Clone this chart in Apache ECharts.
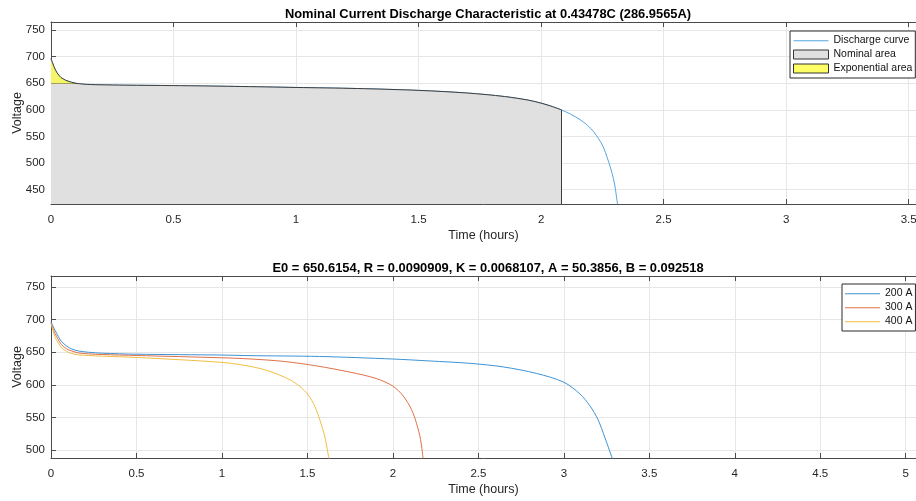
<!DOCTYPE html>
<html><head><meta charset="utf-8">
<script src="https://cdn.jsdelivr.net/npm/echarts@6/dist/echarts.min.js"></script>
<style>html,body{margin:0;padding:0;background:#fff}#c{width:916px;height:501px}</style>
</head><body><div id="c"></div>
<script>
// ---------- data ----------
const topTitle = 'Nominal Current Discharge Characteristic at 0.43478C (286.9565A)';
const bottomTitle = 'E0 = 650.6154, R = 0.0090909, K = 0.0068107, A = 50.3856, B = 0.092518';
const xAxisName = 'Time (hours)';
const yAxisName = 'Voltage';

const topTime = [0, 0.008, 0.016, 0.024, 0.032, 0.04, 0.05, 0.06, 0.07, 0.084, 0.105, 0.13, 0.16, 0.2, 0.3, 0.5, 0.75, 1.0, 1.25, 1.5, 1.7, 1.85, 1.95, 2.0, 2.04, 2.082, 2.12, 2.159, 2.19, 2.214, 2.235, 2.254, 2.27, 2.282, 2.295, 2.302, 2.312];
const topVolt = [696, 686, 677, 670, 665, 661, 658, 655.5, 653.8, 651.8, 649.5, 648.3, 647.5, 647, 646.3, 645.5, 644, 642, 640, 636.5, 631.5, 625, 618, 612.5, 607, 600, 592, 581.5, 570.5, 559, 545.5, 530, 510, 493, 471, 455, 422];
const nominalEndTime = 2.082;
const nominalEndVolt = 600;
const expEndTime = 0.105;
const expVolt = 649.5;
const topLegend = ['Discharge curve', 'Nominal area', 'Exponential area'];

const t200 = [0, 0.012, 0.023, 0.033, 0.043, 0.06, 0.082, 0.1, 0.121, 0.16, 0.218, 0.3, 0.5, 1.0, 1.164, 1.57, 2.0, 2.216, 2.45, 2.645, 2.84, 3.0, 3.094, 3.152, 3.2, 3.24, 3.285];
const v200 = [697, 690, 684, 679, 674, 667, 661.5, 658, 655, 652, 650, 648.5, 647, 645.7, 644.8, 643.5, 639.6, 636.6, 633, 627.5, 617.5, 604, 586, 568, 546.5, 519, 486];
const t300 = [0, 0.012, 0.023, 0.033, 0.043, 0.06, 0.082, 0.1, 0.121, 0.16, 0.218, 0.3, 0.5, 1.0, 1.164, 1.359, 1.554, 1.749, 1.905, 2.0, 2.06, 2.109, 2.138, 2.162, 2.177];
const v300 = [695, 686, 679, 674, 669, 662, 657, 654, 652, 649, 647.5, 646.5, 645, 641.5, 639.7, 636, 629, 619.5, 609.5, 598, 583, 562, 541, 516, 486];
const t400 = [0, 0.012, 0.023, 0.033, 0.043, 0.06, 0.082, 0.1, 0.121, 0.16, 0.218, 0.3, 0.5, 1.0, 1.164, 1.281, 1.398, 1.456, 1.505, 1.544, 1.573, 1.602, 1.626];
const v400 = [694, 683, 674, 668, 664, 657.5, 653, 650, 648, 646, 645, 644, 642, 634.4, 628.4, 620.6, 607.7, 597.4, 584.5, 566.5, 545.9, 520, 486];
const bottomLegend = ['200 A', '300 A', '400 A'];

// ---------- layout / style ----------
const FONT = 'Liberation Sans, Arial, Helvetica, sans-serif';
const TOP_Y = [423, 765], BOT_Y = [487.7, 767];
const TOP_X = [0, 3.53], BOT_X = [0, 5.06];
const axisColor = '#4a4a4a', gridColor = '#e6e6e6', textColor = '#262626';
const SMOOTH = 0.3;
const LINE_ICON = 'path://M0,0 L0.01,0 M0,9 L0.01,9 M0,4.2 L35,4.2 L35,5.3 L0,5.3 Z';

function pairs(t, v) { return t.map((x, i) => [x, v[i]]); }
const curve = pairs(topTime, topVolt);
const nominalData = curve.filter(p => p[0] <= nominalEndTime).map(p => [p[0], Math.min(p[1], expVolt)]);
const expData = curve.filter(p => p[0] <= expEndTime);

function fmtStep(step) {
  return v => (Math.abs(v / step - Math.round(v / step)) < 1e-6) ? String(+v.toFixed(3)) : '';
}
function xAxisMain(grid, ext) {
  return {
    type: 'value', gridIndex: grid, min: ext[0], max: ext[1], interval: 0.5, position: 'bottom',
    name: xAxisName, nameLocation: 'middle', nameGap: 25, nameMoveOverlap: false,
    nameTextStyle: { color: textColor, fontSize: 12.5, fontFamily: FONT },
    axisLine: { onZero: false, lineStyle: { color: axisColor, width: 1 } },
    axisTick: { inside: true, length: 5, lineStyle: { color: axisColor } },
    axisLabel: { color: textColor, fontSize: 11.5, fontFamily: FONT, margin: 10, formatter: fmtStep(0.5), hideOverlap: false },
    splitLine: { show: true, lineStyle: { color: gridColor, width: 1 } }
  };
}
function xAxisTop(grid, ext) {
  return {
    type: 'value', gridIndex: grid, min: ext[0], max: ext[1], interval: 0.5, position: 'top',
    axisLine: { onZero: false, lineStyle: { color: axisColor, width: 1 } },
    axisTick: { inside: true, length: 5, lineStyle: { color: axisColor } },
    axisLabel: { show: false }, splitLine: { show: false }
  };
}
function yAxis(grid, ext) {
  return {
    type: 'value', gridIndex: grid, min: ext[0], max: ext[1], splitNumber: 6,
    name: yAxisName, nameLocation: 'middle', nameGap: 27, nameMoveOverlap: false,
    nameTextStyle: { color: textColor, fontSize: 12.5, fontFamily: FONT },
    axisLine: { show: true, onZero: false, lineStyle: { color: axisColor, width: 1 } },
    axisTick: { show: true, inside: true, length: 5, lineStyle: { color: axisColor } },
    axisLabel: { color: textColor, fontSize: 11.5, fontFamily: FONT, margin: 6, formatter: fmtStep(50) },
    splitLine: { show: true, lineStyle: { color: gridColor, width: 1 } }
  };
}
function lineSeries(name, data, color, xi, yi, extra) {
  return Object.assign({
    name, type: 'line', data, xAxisIndex: xi, yAxisIndex: yi, symbol: 'none', showSymbol: false,
    smooth: SMOOTH,
    lineStyle: { color, width: 1 }, itemStyle: { color }, animation: false, silent: true
  }, extra || {});
}

const legendCommon = {
  orient: 'vertical', itemWidth: 35, itemHeight: 9, itemGap: 3, align: 'left',
  padding: [4, 3, 4, 3], borderColor: '#2b2b2b', borderWidth: 1, backgroundColor: '#fff',
  textStyle: { fontSize: 10.5, color: '#111', fontFamily: FONT }, selectedMode: false
};

const option = {
  backgroundColor: '#fff',
  animation: false,
  title: [
    { text: topTitle, left: 483, top: 3, textAlign: 'center',
      textStyle: { fontSize: 12.9, fontWeight: 'bold', color: '#000', fontFamily: FONT } },
    { text: bottomTitle, left: 483, top: 257, textAlign: 'center',
      textStyle: { fontSize: 12.9, fontWeight: 'bold', color: '#000', fontFamily: FONT } }
  ],
  grid: [
    { left: 51, right: 0, top: 22, bottom: 297, containLabel: false, outerBoundsMode: 'none' },
    { left: 51, right: 0, top: 276, bottom: 43, containLabel: false, outerBoundsMode: 'none' }
  ],
  xAxis: [xAxisMain(0, TOP_X), xAxisTop(0, TOP_X), xAxisMain(1, BOT_X), xAxisTop(1, BOT_X)],
  yAxis: [yAxis(0, TOP_Y), yAxis(1, BOT_Y)],
  legend: [
    Object.assign({}, legendCommon, {
      left: 790, top: 31,
      data: [
        { name: topLegend[0], icon: LINE_ICON, itemStyle: { color: '#55a5e0', borderWidth: 0 } },
        { name: topLegend[1], icon: 'rect', itemStyle: { color: '#e0e0e0', borderColor: '#333', borderWidth: 1 } },
        { name: topLegend[2], icon: 'rect', itemStyle: { color: '#ffff66', borderColor: '#333', borderWidth: 1 } }
      ]
    }),
    Object.assign({}, legendCommon, {
      left: 842, top: 284,
      data: [
        { name: bottomLegend[0], icon: LINE_ICON, itemStyle: { color: '#3d93d4', borderWidth: 0 } },
        { name: bottomLegend[1], icon: LINE_ICON, itemStyle: { color: '#df7048', borderWidth: 0 } },
        { name: bottomLegend[2], icon: LINE_ICON, itemStyle: { color: '#f0bd45', borderWidth: 0 } }
      ]
    })
  ],
  series: [
    lineSeries(topLegend[0], curve, '#55a5e0', 0, 0, { z: 2 }),
    lineSeries(topLegend[1], nominalData, '#e0e0e0', 0, 0, {
      z: 3, lineStyle: { color: '#3d3d3d', width: 1 },
      areaStyle: { color: '#e0e0e0', opacity: 1, origin: 'start' },
      markLine: {
        silent: true, symbol: 'none', animation: false, label: { show: false },
        lineStyle: { color: '#3d3d3d', width: 1, type: 'solid' },
        data: [[{ coord: [nominalEndTime, TOP_Y[0]] }, { coord: [nominalEndTime, nominalEndVolt] }]]
      }
    }),
    lineSeries(topLegend[2], expData, '#ffff66', 0, 0, {
      z: 4, lineStyle: { color: '#3d3d3d', width: 1 },
      areaStyle: { color: '#f5f56a', opacity: 1, origin: expVolt }
    }),
    lineSeries(bottomLegend[0], pairs(t200, v200), '#3d93d4', 2, 1),
    lineSeries(bottomLegend[1], pairs(t300, v300), '#df7048', 2, 1),
    lineSeries(bottomLegend[2], pairs(t400, v400), '#f0bd45', 2, 1)
  ]
};
const chart = echarts.init(document.getElementById('c'), null, { renderer: 'canvas' });
chart.setOption(option);
</script>
</body></html>
